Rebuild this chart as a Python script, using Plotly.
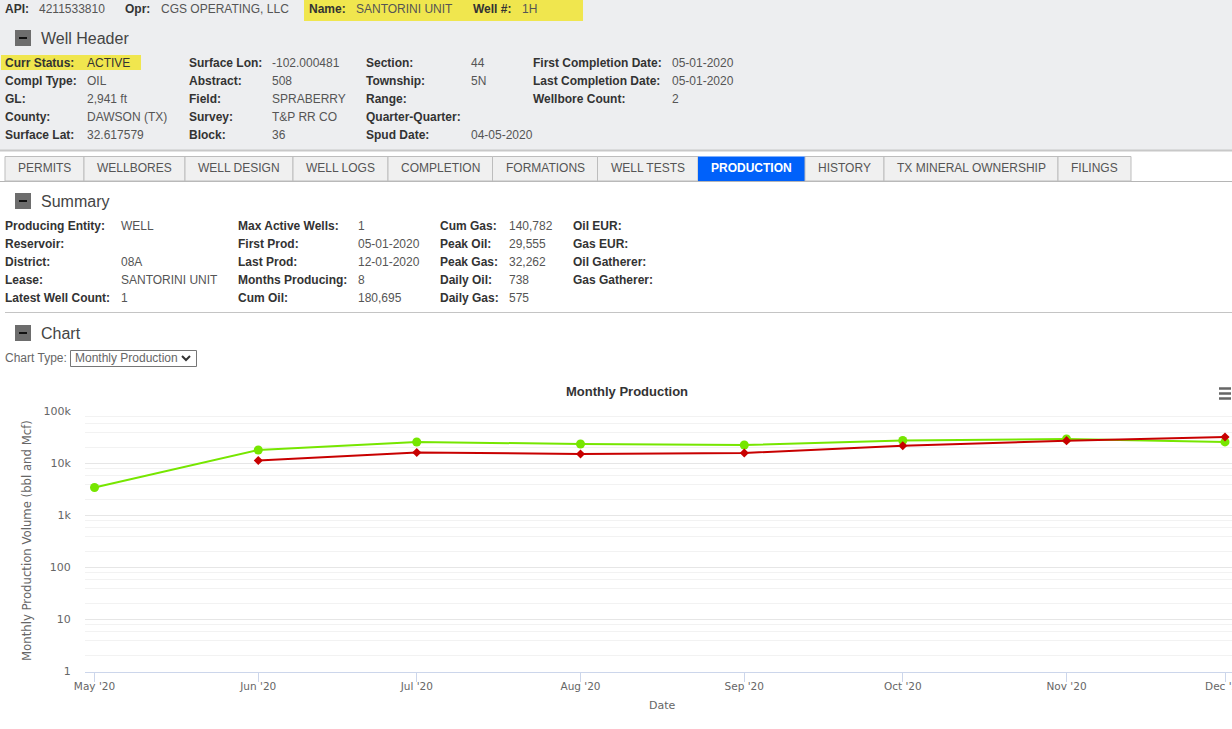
import plotly.graph_objects as go

W, H = 1232, 729

# ---- chart data ----
dates = ["2020-05-01", "2020-06-01", "2020-07-01", "2020-08-01",
         "2020-09-01", "2020-10-01", "2020-11-01", "2020-12-01"]
tick_labels = ["May '20", "Jun '20", "Jul '20", "Aug '20", "Sep '20", "Oct '20", "Nov '20", "Dec '20"]
oil = [3450, 18200, 25900, 23700, 22700, 27700, 29555, 26000]
gas = [None, 11400, 16300, 15200, 15900, 22000, 27500, 32262]
y_ticks = [1, 10, 100, 1000, 10000, 100000]
y_labels = ["1", "10", "100", "1k", "10k", "100k"]
y_minor = [m * 10 ** e for e in range(0, 5) for m in (2, 4, 6, 8)]

# ---- page text ----
top_labels = ["API:", "Opr:", "Name:", "Well #:"]
top_values = ["4211533810", "CGS OPERATING, LLC", "SANTORINI UNIT", "1H"]
header_labels = [
    ["Curr Status:", "Compl Type:", "GL:", "County:", "Surface Lat:"],
    ["Surface Lon:", "Abstract:", "Field:", "Survey:", "Block:"],
    ["Section:", "Township:", "Range:", "Quarter-Quarter:", "Spud Date:"],
    ["First Completion Date:", "Last Completion Date:", "Wellbore Count:", "", ""],
]
header_values = [
    ["ACTIVE", "OIL", "2,941 ft", "DAWSON (TX)", "32.617579"],
    ["-102.000481", "508", "SPRABERRY", "T&P RR CO", "36"],
    ["44", "5N", "", "", "04-05-2020"],
    ["05-01-2020", "05-01-2020", "2", "", ""],
]
summary_labels = [
    ["Producing Entity:", "Reservoir:", "District:", "Lease:", "Latest Well Count:"],
    ["Max Active Wells:", "First Prod:", "Last Prod:", "Months Producing:", "Cum Oil:"],
    ["Cum Gas:", "Peak Oil:", "Peak Gas:", "Daily Oil:", "Daily Gas:"],
    ["Oil EUR:", "Gas EUR:", "Oil Gatherer:", "Gas Gatherer:", ""],
]
summary_values = [
    ["WELL", "", "08A", "SANTORINI UNIT", "1"],
    ["1", "05-01-2020", "12-01-2020", "8", "180,695"],
    ["140,782", "29,555", "32,262", "738", "575"],
    ["", "", "", "", ""],
]
tab_names = ["PERMITS", "WELLBORES", "WELL DESIGN", "WELL LOGS", "COMPLETION", "FORMATIONS",
             "WELL TESTS", "PRODUCTION", "HISTORY", "TX MINERAL OWNERSHIP", "FILINGS"]

# ---- layout constants ----
tab_edges = [5, 84, 185, 293, 388, 492.5, 597.5, 698, 805, 884, 1058, 1131]
FONT = "Liberation Sans"
CHART_FONT = "DejaVu Sans"
LABEL_C, VALUE_C = "#333333", "#555555"
annotations, shapes = [], []


def px(x):
    return x / W


def py(y):
    return 1 - y / H


def text(x, y, s, size=12, color=VALUE_C, bold=False, anchor="left", family=FONT, angle=0):
    if not s:
        return
    annotations.append(dict(
        x=px(x), y=py(y), xref="paper", yref="paper", text=f"<b>{s}</b>" if bold else s,
        showarrow=False, xanchor=anchor, yanchor="middle", textangle=angle,
        font=dict(family=family, size=size, color=color), borderpad=0, borderwidth=0,
    ))


def rect(x0, y0, x1, y1, fill=None, line=None, lw=1):
    shapes.append(dict(
        type="rect", xref="paper", yref="paper", x0=px(x0), x1=px(x1), y0=py(y0), y1=py(y1),
        fillcolor=fill or "rgba(0,0,0,0)", line=dict(color=line or "rgba(0,0,0,0)", width=lw if line else 0),
        layer="below",
    ))


def hline(x0, x1, y, color="#c4c4c4", lw=1):
    shapes.append(dict(type="line", xref="paper", yref="paper", x0=px(x0), x1=px(x1),
                       y0=py(y), y1=py(y), line=dict(color=color, width=lw), layer="below"))


def section(y, s):
    rect(15, y - 8, 31, y + 8, fill="#6d6d6d")
    hline(19, 27, y, color="#111111", lw=2)
    text(41, y + 0.5, s, size=16, color="#444444")


# header band
rect(0, 0, W, 150, fill="#edeef0")
hline(0, W, 150.5, color="#c8c8c8", lw=2)
rect(304, 0, 583, 21, fill="#f0e64e")
rect(1, 55, 141, 70, fill="#f0e64e")

for x, s in zip([5, 125, 309, 473], top_labels):
    text(x, 9, s, bold=True, color=LABEL_C)
for x, s in zip([39, 161, 356, 522], top_values):
    text(x, 9, s)

section(38, "Well Header")
row_y = [63, 81, 99, 117, 135]
for lx, vx, labs, vals in zip([5, 189, 366, 533], [87, 272, 471, 672], header_labels, header_values):
    for y, l, v in zip(row_y, labs, vals):
        text(lx, y, l, bold=True, color=LABEL_C)
        text(vx, y, v, color=LABEL_C if v == "ACTIVE" else VALUE_C)

# tabs
hline(0, W, 181.5, color="#b5b5b5", lw=1)
for i, name in enumerate(tab_names):
    x0, x1 = tab_edges[i], tab_edges[i + 1]
    active = name == "PRODUCTION"
    if active:
        rect(x0, 156.5, x1, 181, fill="#0061fa")
    else:
        rect(x0, 156.5, x1, 181, fill="#f0f0f0", line="#bdbdbd")
    text((x0 + x1) / 2, 168, name, color="#ffffff" if active else "#555555", bold=active, anchor="center")

# summary
section(201, "Summary")
row_y2 = [226, 244, 262, 280, 298]
for lx, vx, labs, vals in zip([5, 238, 440, 573], [121, 358, 509, 660], summary_labels, summary_values):
    for y, l, v in zip(row_y2, labs, vals):
        text(lx, y, l, bold=True, color=LABEL_C)
        text(vx, y, v)
hline(5, W, 312.5)

# chart section
section(333, "Chart")
text(5, 358, "Chart Type:", color="#666666")
shapes.append(dict(type="rect", xref="paper", yref="paper", x0=px(70.5), x1=px(196.5), y0=py(350.5), y1=py(366.5),
                   line=dict(color="#767676", width=1), fillcolor="#ffffff", layer="below"))
text(75, 358, "Monthly Production", color="#666666")
shapes.append(dict(type="path", xref="paper", yref="paper",
                   path=f"M {px(182)} {py(356)} L {px(186)} {py(360)} L {px(190)} {py(356)}",
                   line=dict(color="#333333", width=2), layer="below"))

# chart furniture
text(627, 391.5, "Monthly Production", size=13, bold=True, color="#333333", family=FONT, anchor="center")
for y in (388.5, 393.5, 398.5):
    hline(1219, 1231, y, color="#666666", lw=2.5)
text(27, 541, "Monthly Production Volume (bbl and Mcf)", size=11.7, color="#666666",
     family=CHART_FONT, anchor="center", angle=-90)
text(662, 705, "Date", size=11, color="#666666", family=CHART_FONT, anchor="center")

fig = go.Figure()
fig.add_trace(go.Scatter(
    x=dates, y=oil, mode="lines+markers", name="Oil", cliponaxis=False,
    line=dict(color="#76e600", width=2), marker=dict(symbol="circle", size=9, color="#76e600"),
))
fig.add_trace(go.Scatter(
    x=dates, y=gas, mode="lines+markers", name="Gas", cliponaxis=False,
    line=dict(color="#c80000", width=2), marker=dict(symbol="diamond", size=7, color="#c80000"),
))
fig.update_layout(
    width=W, height=H, autosize=False, margin=dict(l=0, r=0, t=0, b=0),
    paper_bgcolor="#ffffff", plot_bgcolor="rgba(0,0,0,0)", showlegend=False,
    annotations=annotations, shapes=shapes,
    xaxis=dict(
        domain=[px(85), 1], type="date", range=["2020-04-29 04:48", "2020-12-02 07:48"],
        automargin=False, ticklabeloverflow="allow", ticklabelstandoff=-4,
        tickmode="array", tickvals=dates, ticktext=tick_labels,
        showgrid=False, zeroline=False, showline=True, linecolor="#ccd6eb", linewidth=1,
        ticks="outside", ticklen=9, tickcolor="#ccd6eb", tickwidth=1,
        tickfont=dict(family=CHART_FONT, size=10.5, color="#666666"),
    ),
    yaxis=dict(
        domain=[py(671.5), py(411.5)], type="log", range=[0, 5],
        automargin=False,
        tickmode="array", tickvals=y_ticks, ticktext=y_labels,
        showgrid=True, gridcolor="#e6e6e6", gridwidth=1, zeroline=False, showline=False,
        tickfont=dict(family=CHART_FONT, size=11, color="#666666"),
        ticks="outside", ticklen=11, tickcolor="rgba(0,0,0,0)",
        minor=dict(tickmode="array", tickvals=y_minor, showgrid=True, gridcolor="#f2f2f2", gridwidth=1, ticks=""),
    ),
)
fig.write_html("out.html", config={"displayModeBar": False},
               post_script="document.body.style.margin='0';document.body.style.overflow='hidden';")
